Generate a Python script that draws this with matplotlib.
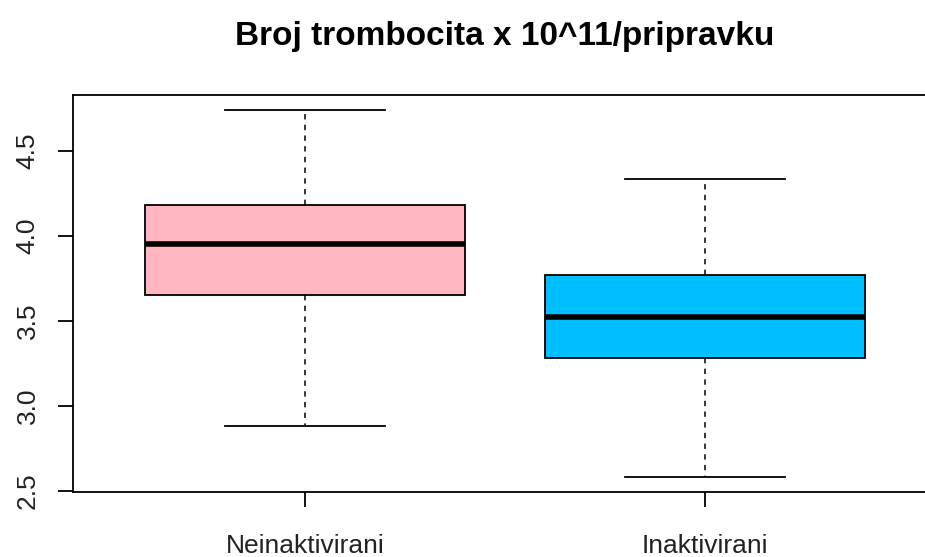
import matplotlib
matplotlib.use("Agg")
import matplotlib.pyplot as plt

plt.rcParams['font.family'] = ['Liberation Sans', 'DejaVu Sans']

categories = ["Neinaktivirani", "Inaktivirani"]
whisker_low = [2.88, 2.58]
q1 = [3.65, 3.28]
medians = [3.95, 3.52]
q3 = [4.18, 3.77]
whisker_high = [4.74, 4.33]
colors = ["#FFB6C1", "#00BFFF"]
yticks = [2.5, 3.0, 3.5, 4.0, 4.5]
title = "Broj trombocita x 10^11/pripravku"

W, H = 925, 557
fig = plt.figure(figsize=(W / 100, H / 100), dpi=100)
# axes extends past right edge (cropped like the reference)
left, right, top, bottom = 73, 937, 95, 492
ax = fig.add_axes([left / W, 1 - bottom / H, (right - left) / W, (bottom - top) / H])

stats = []
for i, c in enumerate(categories):
    stats.append(dict(label=c, whislo=whisker_low[i], q1=q1[i], med=medians[i],
                      q3=q3[i], whishi=whisker_high[i], fliers=[]))

bp = ax.bxp(stats, positions=[1, 2], widths=0.8, patch_artist=True,
            showfliers=False,
            boxprops=dict(linewidth=1.3, edgecolor="black"),
            medianprops=dict(color="black", linewidth=4, solid_capstyle="butt"),
            whiskerprops=dict(color="black", linewidth=1.1, linestyle=(0, (3.5, 3.5))),
            capprops=dict(color="black", linewidth=1.3),
            capwidths=0.4)
for patch, col in zip(bp['boxes'], colors):
    patch.set_facecolor(col)

lo = min(whisker_low); hi = max(whisker_high)
pad = 0.04 * (hi - lo)
ax.set_ylim(lo - pad, hi + pad)
ax.set_xlim(0.42, 2.58)

ax.set_yticks(yticks)
ax.set_yticklabels([f"{v:.1f}" for v in yticks], rotation=90, va="center", fontsize=19)
ax.set_xticks([1, 2])
ax.set_xticklabels(categories, fontsize=19)
ax.tick_params(axis='both', length=11, width=1.3, color="black", labelcolor="#222222")
ax.tick_params(axis='y', pad=13)
ax.tick_params(axis='x', pad=19)
for s in ax.spines.values():
    s.set_linewidth(1.3)

fig.text(505 / W, 1 - 36 / H, title, ha="center", va="center",
         fontsize=24, fontweight="bold")

fig.savefig("out.png", dpi=100)
